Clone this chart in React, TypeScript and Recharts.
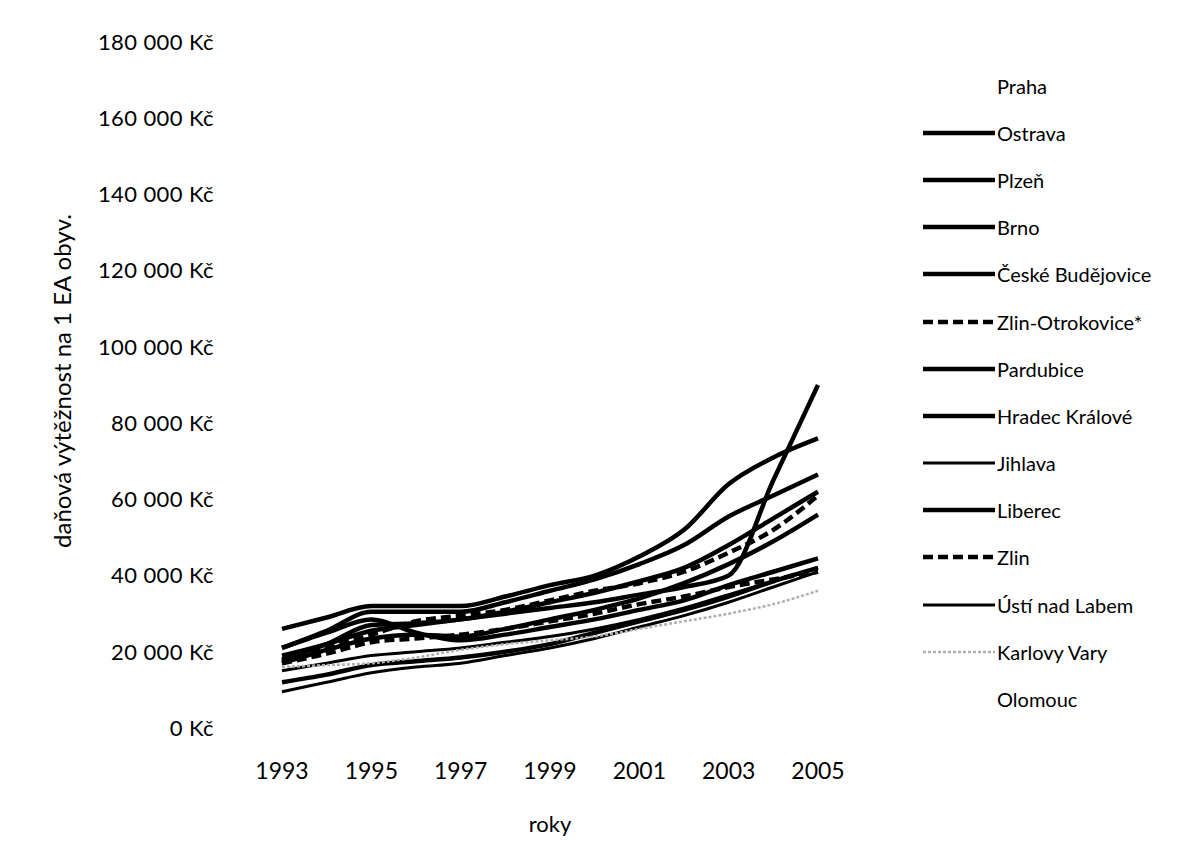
import React from 'react';
import { LineChart, Line, XAxis, YAxis, Legend, Label } from 'recharts';

const years = [1993, 1994, 1995, 1996, 1997, 1998, 1999, 2000, 2001, 2002, 2003, 2004, 2005];
const xTicks = [1993, 1995, 1997, 1999, 2001, 2003, 2005];
const yTicks = [0, 20000, 40000, 60000, 80000, 100000, 120000, 140000, 160000, 180000];

const legendNames = [
  'Praha', 'Ostrava', 'Plzeň', 'Brno', 'České Budějovice', 'Zlin-Otrokovice*', 'Pardubice',
  'Hradec Králové', 'Jihlava', 'Liberec', 'Zlin', 'Ústí nad Labem', 'Karlovy Vary', 'Olomouc',
];

const ostrava = [26000, 29000, 32000, 32000, 32000, 34500, 37500, 40000, 45000, 52000, 64000, 71000, 76000];
const plzen = [21000, 25500, 30500, 30500, 30500, 33000, 36000, 39000, 43000, 48000, 55500, 61000, 66500];
const brno = [19000, 22000, 25500, 27000, 28500, 30000, 31500, 33000, 35000, 37000, 40000, 65000, 90000];
const ceskeBudejovice = [18000, 22000, 27000, 27500, 28500, 30500, 33000, 35500, 38500, 42000, 48000, 55000, 62000];
const zlinOtrokovice = [17500, 21000, 24500, 28000, 29500, 31000, 33500, 36000, 38000, 41000, 46000, 52000, 61000];
const pardubice = [17000, 20500, 23500, 24500, 24000, 26000, 28500, 31000, 34000, 38000, 43000, 49000, 56000];
const hradecKralove = [21000, 25000, 28500, 25000, 23000, 24500, 26500, 28500, 31000, 33500, 37500, 41000, 44500];
const jihlava = [15000, 17000, 19000, 20000, 21000, 22500, 24000, 26000, 28500, 31500, 35000, 38500, 42000];
const liberec = [12000, 14000, 16500, 17500, 18500, 20000, 22000, 25000, 28000, 31000, 34500, 38500, 42000];
const zlin = [17000, 19500, 22500, 23500, 24500, 26000, 28000, 30000, 32500, 34500, 37000, 39000, 41000];
const ustiNadLabem = [9500, 12000, 14500, 16000, 17000, 19000, 21000, 23500, 26500, 29500, 33000, 37000, 41000];
const karlovyVary = [16000, 16500, 17000, 18500, 20500, 22000, 23000, 24000, 26000, 28000, 30000, 32500, 36000];

const seriesValues: Record<string, number[]> = {
  'Ostrava': ostrava,
  'Plzeň': plzen,
  'Brno': brno,
  'České Budějovice': ceskeBudejovice,
  'Zlin-Otrokovice*': zlinOtrokovice,
  'Pardubice': pardubice,
  'Hradec Králové': hradecKralove,
  'Jihlava': jihlava,
  'Liberec': liberec,
  'Zlin': zlin,
  'Ústí nad Labem': ustiNadLabem,
  'Karlovy Vary': karlovyVary,
};

type Sty = { stroke: string; width: number; dash?: string };
const styleOf = (name: string): Sty | null => {
  if (name === 'Praha' || name === 'Olomouc') return null;
  if (name === 'Zlin-Otrokovice*' || name === 'Zlin') return { stroke: '#000', width: 4.5, dash: '10 5' };
  if (name === 'Jihlava' || name === 'Ústí nad Labem') return { stroke: '#000', width: 3 };
  if (name === 'Karlovy Vary') return { stroke: '#b0b0b0', width: 2.5, dash: '3 2' };
  return { stroke: '#000', width: 4.5 };
};

const data = years.map((year, i) => {
  const row: Record<string, number> = { year };
  Object.keys(seriesValues).forEach((k) => {
    row[k] = seriesValues[k][i];
  });
  return row;
});

const FONT = 'Lato, "Open Sans", sans-serif';

const formatKc = (v: number) => (v === 0 ? '0 Kč' : `${Math.round(v / 1000)} 000 Kč`);

const YTitle = (props: any) => {
  const vb = props.viewBox || { x: 0, y: 0, width: 0, height: 0 };
  const cx = vb.x + 53;
  const cy = vb.y + vb.height / 2 - 4;
  return (
    <text
      x={cx}
      y={cy}
      transform={`rotate(-90 ${cx} ${cy})`}
      textAnchor="middle"
      dominantBaseline="central"
      fontFamily={FONT}
      fontSize={24}
      fill="#000"
    >
      daňová výtěžnost na 1 EA obyv.
    </text>
  );
};

const XTitle = (props: any) => {
  const vb = props.viewBox || { x: 0, y: 0, width: 0, height: 0 };
  return (
    <text
      x={vb.x + vb.width / 2}
      y={vb.y + 95}
      textAnchor="middle"
      dominantBaseline="central"
      fontFamily={FONT}
      fontSize={22}
      fill="#000"
    >
      roky
    </text>
  );
};

const LegendContent = () => (
  <div style={{ fontFamily: FONT, fontSize: 20, color: '#000' }}>
    {legendNames.map((name) => {
      const s = styleOf(name);
      return (
        <div key={name} style={{ height: 47.2, display: 'flex', alignItems: 'center' }}>
          <svg width={75} height={10} style={{ flex: '0 0 auto' }}>
            {s && (
              <line
                x1={1}
                y1={5}
                x2={73}
                y2={5}
                stroke={s.stroke}
                strokeWidth={s.width}
                strokeDasharray={s.dash}
              />
            )}
          </svg>
          <span style={{ whiteSpace: 'nowrap' }}>{name}</span>
        </div>
      );
    })}
  </div>
);

export default function App() {
  return (
    <div style={{ width: 1163, height: 848, background: '#fff' }}>
      <LineChart
        width={1163}
        height={848}
        data={data}
        margin={{ top: 34, right: 353, bottom: 0, left: 0 }}
      >
        <XAxis
          dataKey="year"
          type="number"
          domain={[1993, 2005]}
          ticks={xTicks}
          allowDecimals={false}
          axisLine={false}
          tickLine={false}
          tickSize={6}
          tickMargin={29}
          height={128}
          tick={{ fontFamily: FONT, fontSize: 23, fill: '#000' }}
        >
          <Label content={XTitle} />
        </XAxis>
        <YAxis
          type="number"
          domain={[0, 180000]}
          ticks={yTicks}
          width={274}
          axisLine={false}
          tickLine={false}
          tickSize={6}
          tickMargin={62}
          tickFormatter={formatKc}
          tick={{ fontFamily: FONT, fontSize: 22, fill: '#000', letterSpacing: 0.4 }}
        >
          <Label content={YTitle} />
        </YAxis>
        <Legend
          layout="vertical"
          align="center"
          verticalAlign="middle"
          content={LegendContent}
          wrapperStyle={{ position: 'absolute', left: 914, top: 54, width: 260 }}
        />
        {Object.keys(seriesValues).map((name) => {
          const s = styleOf(name)!;
          return (
            <Line
              key={name}
              dataKey={name}
              type="monotone"
              stroke={s.stroke}
              strokeWidth={s.width}
              strokeDasharray={s.dash}
              dot={false}
              activeDot={false}
              isAnimationActive={false}
            />
          );
        })}
      </LineChart>
    </div>
  );
}
